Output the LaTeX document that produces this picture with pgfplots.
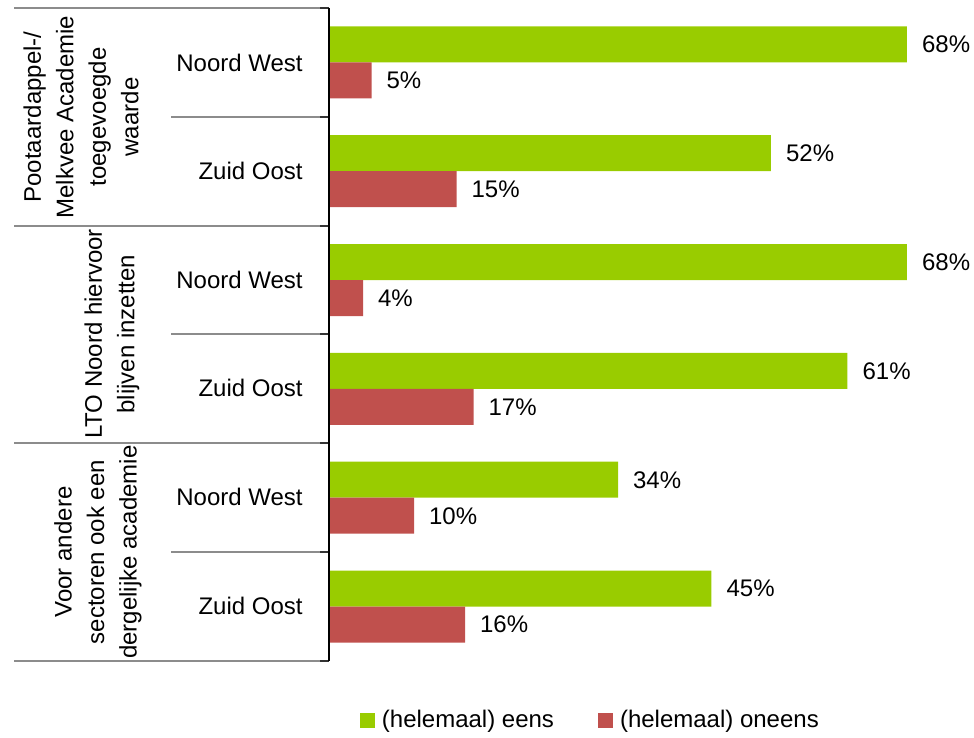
\documentclass[border=0pt]{standalone}
\usepackage{fontspec}
\setmainfont{Liberation Sans}
\usepackage{pgfplots}
\pgfplotsset{compat=1.18}
\usepackage{pgfplotstable}
\definecolor{cgreen}{HTML}{99CC00}
\definecolor{cred}{HTML}{C0504D}
\definecolor{cline}{HTML}{8C8C8C}
\pgfplotstableread{
y green red
5 68 5
4 52 15
3 68 4
2 61 17
1 34 10
0 45 16
}\datatab
\begin{document}
\begin{tikzpicture}
\useasboundingbox (0,0) rectangle (487pt,369pt);
\begin{axis}[
  at={(164.5pt,38.5pt)}, anchor=south west,
  scale only axis, width=323pt, height=326.5pt,
  xmin=0, xmax=76, ymin=-0.5, ymax=5.5,
  hide axis, clip=false,
  /pgf/number format/assume math mode=true,
  xbar, bar width=18pt,
  point meta=x,
  nodes near coords={\pgfmathprintnumber{\pgfplotspointmeta}\%},
  every node near coord/.append style={font=\fontsize{12pt}{14pt}\selectfont, black, anchor=west, xshift=4pt},
  legend columns=2,
  legend style={draw=none, at={(0.4085,-0.0904)}, anchor=center,
    font=\fontsize{12pt}{14pt}\selectfont,
    nodes={inner xsep=3.5pt, inner ysep=0pt},
    /tikz/every even column/.append style={column sep=18.5pt},
    inner sep=0pt},
  legend image code/.code={\fill[#1,draw=none] (0pt,-3.75pt) rectangle (7.5pt,3.75pt);},
]
\addplot[fill=cgreen, draw=none, bar shift=9pt] table[x=green, y=y] {\datatab};
\addplot[fill=cred, draw=none, bar shift=-9pt] table[x=red, y=y] {\datatab};
\legend{(helemaal) eens, (helemaal) oneens}
\end{axis}
\begin{scope}[yshift=369pt, x=0.5pt, y=-0.5pt]
% separator lines
\foreach \yy in {8,226,443,661} \draw[cline, line width=0.7pt] (14,\yy) -- (329,\yy);
\foreach \yy in {117,334,552} \draw[cline, line width=0.7pt] (171,\yy) -- (329,\yy);
\foreach \yy in {8,117,226,334,443,552,661} \draw[black!80, line width=0.7pt] (320,\yy) -- (329,\yy);
\draw[black, line width=0.8pt] (329,8) -- (329,661);
% sub labels
\foreach \yy/\t in {62.5/Noord West,171/Zuid Oost,280/Noord West,388/Zuid Oost,497/Noord West,606/Zuid Oost}
  \node[anchor=east, font=\fontsize{12pt}{14pt}\selectfont, inner sep=0pt] at (303,\yy) {\t};
% group labels
\node[rotate=90, align=center, font=\fontsize{12pt}{16.25pt}\selectfont, inner sep=0pt] at (81,117) {Pootaardappel-/\\Melkvee Academie\\toegevoegde\\waarde};
\node[rotate=90, align=center, font=\fontsize{12pt}{16.25pt}\selectfont, inner sep=0pt] at (112,334) {LTO Noord hiervoor\\blijven inzetten};
\node[rotate=90, align=center, font=\fontsize{12pt}{16.25pt}\selectfont, inner sep=0pt] at (98,552) {Voor andere\\sectoren ook een\\dergelijke academie};
\end{scope}
\end{tikzpicture}
\end{document}
